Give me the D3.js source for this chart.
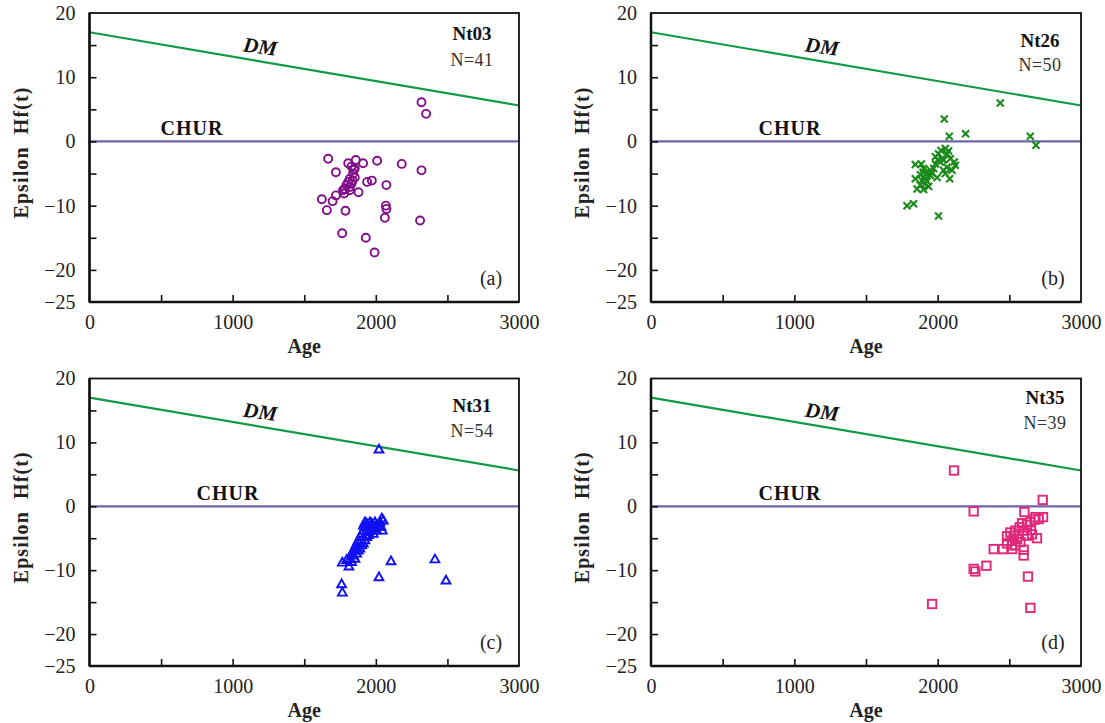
<!DOCTYPE html>
<html><head><meta charset="utf-8">
<script src="https://cdn.jsdelivr.net/npm/d3@7"></script>
<style>
html,body{margin:0;padding:0;background:#fff;}
svg{display:block;font-family:"Liberation Serif","Times New Roman",serif;}
</style></head>
<body>
<svg id="chart" width="1105" height="723"></svg>
<script>
// ---- data ----
const xDomain = [0, 3000];
const yDomain = [-25, 20];
const xTickMarks = [500, 1000, 1500, 2000, 2500];
const xTickLabels = [0, 1000, 2000, 3000];
const yTickMarks = [-20, -15, -10, -5, 0, 5, 10, 15];
const yTickLabels = [20, 10, 0, -10, -20, -25];
const dmAge = [0, 3000];
const dmHf = [17.0, 5.6];
const churAge = [0, 3000];
const churHf = [0, 0];

const nt03Age = [2319,2351,1667,1807,1860,1911,2009,2181,2319,1721,1830,1846,1853,1818,1807,1795,1783,1818,1779,1818,1879,1939,1972,2074,1721,1698,1623,1658,1788,2070,2074,2063,2309,1765,1930,1991,1841,1830,1771,1837,1853];
const nt03Hf  = [6.1,4.3,-2.7,-3.4,-2.9,-3.4,-3.0,-3.5,-4.5,-4.8,-3.9,-4.4,-5.6,-5.8,-6.3,-6.8,-7.4,-7.1,-8.1,-7.6,-7.9,-6.3,-6.1,-6.8,-8.4,-9.3,-9.0,-10.7,-10.8,-10.0,-10.5,-11.9,-12.3,-14.3,-15.0,-17.3,-5.0,-6.6,-7.6,-6.1,-4.2];

const nt26Age = [2437,2046,2081,2195,2646,2686,1844,1886,1844,1856,1902,1786,1832,2006,2084,1996,2041,2123,2116,2053,2023,2006,1984,2065,2088,2030,2018,1949,1925,1902,1891,1914,1949,1972,1937,1879,1898,2065,2100,2041,2000,1914,1926,1960,2076,1879,1902,1984,2053,1937];
const nt26Hf  = [6.0,3.5,0.8,1.2,0.8,-0.6,-3.6,-3.5,-5.8,-7.4,-7.5,-10.0,-9.7,-11.6,-5.8,-5.6,-4.5,-3.7,-3.2,-1.1,-1.4,-1.9,-2.4,-1.9,-2.7,-2.7,-3.2,-4.5,-5.0,-5.5,-6.1,-6.6,-5.3,-4.2,-4.8,-6.8,-4.8,-4.0,-4.5,-2.9,-2.9,-5.8,-6.2,-4.9,-1.5,-5.2,-4.2,-3.5,-5.0,-7.0];

const nt31Age = [2022,1761,1766,2022,2106,2413,2490,1766,1812,1796,1831,1843,1854,1866,1878,1889,1901,1913,1924,1936,1959,1971,1982,1994,2006,2029,2041,2052,2045,2036,1947,1936,1913,1889,1866,1854,1843,1878,1901,1924,1947,1959,1982,2006,2017,1924,1913,1971,1994,1889,1866,1819,1831,1936];
const nt31Hf  = [8.9,-12.2,-13.5,-11.1,-8.6,-8.3,-11.6,-8.8,-9.4,-8.4,-7.4,-6.9,-6.4,-5.8,-5.3,-4.8,-4.3,-3.8,-3.2,-2.7,-2.5,-3.0,-3.5,-3.2,-3.0,-2.5,-1.9,-2.2,-3.8,-3.2,-4.0,-4.8,-5.8,-6.6,-7.4,-8.2,-7.7,-6.9,-6.1,-5.3,-4.5,-3.8,-4.3,-3.8,-3.2,-2.5,-3.0,-2.7,-2.5,-5.6,-6.6,-8.2,-8.7,-3.8];

const nt35Age = [2114,2733,2251,2605,1961,2647,2630,2251,2263,2340,2391,2456,2519,2600,2600,2693,2735,2705,2675,2647,2623,2589,2572,2600,2651,2658,2542,2507,2484,2530,2554,2519,2484,2542,2577,2623,2565,2682,2519];
const nt35Hf  = [5.6,1.0,-0.8,-0.9,-15.3,-15.9,-11.0,-9.8,-10.2,-9.3,-6.7,-6.7,-6.7,-6.8,-7.7,-5.0,-1.7,-2.0,-2.1,-2.5,-2.9,-2.65,-3.3,-3.8,-3.7,-4.4,-3.8,-4.1,-4.7,-4.6,-5.1,-5.4,-5.8,-6.1,-5.6,-4.6,-4.3,-1.7,-6.1];

const sampleNames = ["Nt03", "Nt26", "Nt31", "Nt35"];
const sampleCounts = ["N=41", "N=50", "N=54", "N=39"];
const panelLetters = ["(a)", "(b)", "(c)", "(d)"];

// ---- layout & style ----
const panels = [
  {age: nt03Age, hf: nt03Hf, left: 89.5, right: 519, top: 13, bottom: 302, marker: "circle", color: "#800d8a", churX: 192, name: [472, 40], n: [472, 66]},
  {age: nt26Age, hf: nt26Hf, left: 651, right: 1081, top: 13, bottom: 302, marker: "cross", color: "#1a8a1a", churX: 790, name: [1040, 47], n: [1040, 71]},
  {age: nt31Age, hf: nt31Hf, left: 89.5, right: 519, top: 378.5, bottom: 666, marker: "triangle", color: "#1010f0", churX: 228, name: [472, 412], n: [472, 437]},
  {age: nt35Age, hf: nt35Hf, left: 651, right: 1081, top: 378.5, bottom: 666, marker: "square", color: "#e0287a", churX: 790, name: [1045, 404], n: [1045, 429]}
];
const dmColor = "#109a45";
const churColor = "#6d65aa";

const svg = d3.select("#chart");
const fmt = v => (v < 0 ? "\u2212" + Math.abs(v) : String(v));

panels.forEach((p, i) => {
  const x = d3.scaleLinear().domain(xDomain).range([p.left, p.right]);
  const y = d3.scaleLinear().domain(yDomain).range([p.bottom, p.top]);
  const g = svg.append("g");

  // reference lines
  const line = d3.line().x(d => x(d[0])).y(d => y(d[1]));
  g.append("path").datum(dmAge.map((a, k) => [a, dmHf[k]])).attr("d", line)
    .attr("stroke", dmColor).attr("stroke-width", 2.2).attr("fill", "none");
  g.append("path").datum(churAge.map((a, k) => [a, churHf[k]])).attr("d", line)
    .attr("stroke", churColor).attr("stroke-width", 2.2).attr("fill", "none");

  // data markers
  const pts = p.age.map((a, k) => [x(a), y(p.hf[k])]);
  const mg = g.append("g").attr("fill", "none").attr("stroke", p.color).attr("stroke-width", 1.9);
  pts.forEach(([px, py]) => {
    if (p.marker === "circle") {
      mg.append("circle").attr("cx", px).attr("cy", py).attr("r", 4);
    } else if (p.marker === "square") {
      mg.append("rect").attr("x", px - 4.2).attr("y", py - 4.2).attr("width", 8.4).attr("height", 8.4);
    } else if (p.marker === "triangle") {
      mg.append("path").attr("d", `M${px},${py - 4.7}L${px + 4.4},${py + 3.1}L${px - 4.4},${py + 3.1}Z`);
    } else {
      mg.append("path").attr("d", `M${px - 3.5},${py - 3.5}L${px + 3.5},${py + 3.5}M${px - 3.5},${py + 3.5}L${px + 3.5},${py - 3.5}`)
        .attr("stroke-width", 2.1);
    }
  });

  // frame
  g.append("rect").attr("x", p.left).attr("y", p.top).attr("width", p.right - p.left).attr("height", p.bottom - p.top)
    .attr("fill", "none").attr("stroke", "#111").attr("stroke-width", 1.8);
  g.append("line").attr("x1", p.left).attr("x2", p.left).attr("y1", p.top).attr("y2", p.bottom).attr("stroke", "#111").attr("stroke-width", 2.5);
  g.append("line").attr("x1", p.left).attr("x2", p.right).attr("y1", p.bottom).attr("y2", p.bottom).attr("stroke", "#111").attr("stroke-width", 2.5);

  // axes
  const xAxis = d3.axisBottom(x).tickValues(xTickMarks).tickSize(-7).tickFormat("");
  g.append("g").attr("transform", `translate(0,${p.bottom})`).call(xAxis)
    .call(s => s.select(".domain").remove())
    .selectAll("line").attr("stroke", "#111").attr("stroke-width", 1.6);
  const yAxis = d3.axisLeft(y).tickValues(yTickMarks).tickSize(-7).tickFormat("");
  g.append("g").attr("transform", `translate(${p.left},0)`).call(yAxis)
    .call(s => s.select(".domain").remove())
    .selectAll("line").attr("stroke", "#111").attr("stroke-width", 1.6);

  const xl = d3.axisBottom(x).tickValues(xTickLabels).tickSize(0).tickPadding(13).tickFormat(fmt);
  g.append("g").attr("transform", `translate(0,${p.bottom})`).call(xl)
    .call(s => s.select(".domain").remove())
    .selectAll("text").attr("font-family", "Liberation Serif, serif").attr("font-size", 20).attr("fill", "#222");
  const yl = d3.axisLeft(y).tickValues(yTickLabels).tickSize(0).tickPadding(14).tickFormat(fmt);
  g.append("g").attr("transform", `translate(${p.left},0)`).call(yl)
    .call(s => s.select(".domain").remove())
    .selectAll("text").attr("font-family", "Liberation Serif, serif").attr("font-size", 20).attr("fill", "#222");

  // axis titles
  g.append("text").attr("x", (p.left + p.right) / 2).attr("y", p.bottom + 51)
    .attr("text-anchor", "middle").attr("font-weight", "bold").attr("font-size", 20).attr("fill", "#222").text("Age");
  g.append("text").attr("transform", `translate(${p.left - 62},${(p.top + p.bottom) / 2 - 5}) rotate(-90)`)
    .attr("text-anchor", "middle").attr("font-weight", "bold").attr("font-size", 20).attr("fill", "#222")
    .attr("letter-spacing", 1.1).attr("xml:space", "preserve").text("Epsilon  Hf(t)");

  // line labels
  const dmLabelAge = 1200;
  const dmY = y(dmHf[0] + (dmHf[1] - dmHf[0]) * dmLabelAge / 3000);
  g.append("text").attr("transform", `translate(${x(dmLabelAge) - 2},${dmY - 8}) rotate(8)`)
    .attr("text-anchor", "middle").attr("font-weight", "bold").attr("font-style", "italic").attr("font-size", 21)
    .attr("fill", "#111").text("DM");
  g.append("text").attr("x", p.churX).attr("y", y(0) - 6).attr("text-anchor", "middle")
    .attr("font-weight", "bold").attr("font-size", 20).attr("letter-spacing", 1).attr("fill", "#111").text("CHUR");

  // sample labels
  g.append("text").attr("x", p.name[0]).attr("y", p.name[1]).attr("text-anchor", "middle")
    .attr("font-weight", "bold").attr("font-size", 19).attr("fill", "#111").text(sampleNames[i]);
  g.append("text").attr("x", p.n[0]).attr("y", p.n[1]).attr("text-anchor", "middle")
    .attr("font-size", 18).attr("letter-spacing", 0.5).attr("fill", "#333").text(sampleCounts[i]);
  g.append("text").attr("x", p.right - 28).attr("y", p.bottom - 17).attr("text-anchor", "middle")
    .attr("font-size", 20).attr("fill", "#222").text(panelLetters[i]);
});
</script>
</body></html>
